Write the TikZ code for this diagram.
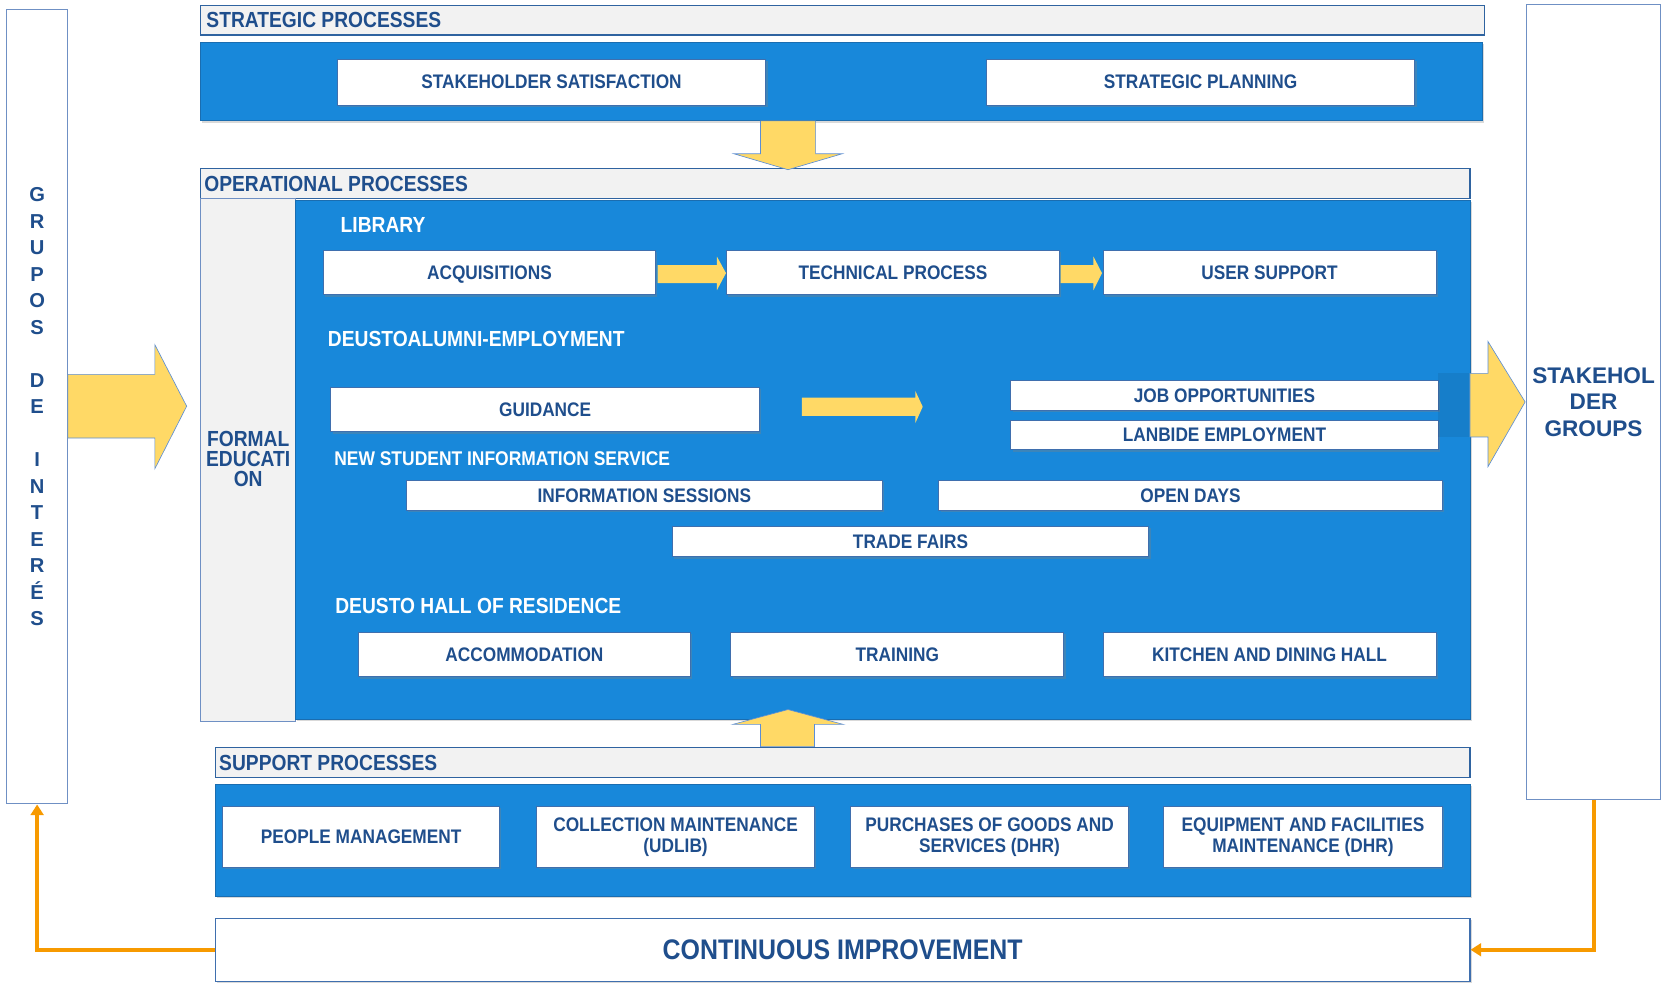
\documentclass[tikz,border=0pt]{standalone}
\usepackage{fontspec}
\setmainfont{Liberation Sans}
\newfontfamily\narb[FakeStretch=0.88]{Liberation Sans Bold}
\newfontfamily\wideb{Liberation Sans Bold}
\usetikzlibrary{shadows,arrows.meta}
\definecolor{bandc}{HTML}{1888DA}
\definecolor{bandb}{HTML}{1A6DB0}
\definecolor{hdrf}{HTML}{F2F2F2}
\definecolor{hdrb}{HTML}{2F63A0}
\definecolor{bordc}{HTML}{3F6FAE}
\definecolor{obord}{HTML}{6F90C4}
\definecolor{txt}{HTML}{1F4E8C}
\definecolor{yel}{HTML}{FFD966}
\definecolor{yelb}{HTML}{5B8ED6}
\definecolor{orc}{HTML}{F79A00}
\tikzset{
  wbox/.style={draw=bordc, line width=0.8pt, fill=white, inner sep=1pt, align=center,
    font=\narb\fontsize{18.5}{20}\selectfont, text=txt,
    drop shadow={shadow xshift=1.8pt, shadow yshift=-1.8pt, opacity=0.35}},
  band/.style={draw=bandb, line width=0.8pt, fill=bandc, inner sep=0pt,
    drop shadow={shadow xshift=1.5pt, shadow yshift=-1.5pt, opacity=0.3}},
  hdr/.style={draw=hdrb, line width=1pt, fill=hdrf, inner sep=0pt},
  lbl/.style={font=\narb\fontsize{20.6}{19}\selectfont, text=txt, anchor=west, inner sep=0pt},
  wlbl/.style={font=\narb\fontsize{20.6}{19}\selectfont, text=white, anchor=west, inner sep=0pt},
  obox/.style={draw=obord, line width=1pt, fill=white, inner sep=0pt, align=center},
  yarrow/.style={fill=yel, draw=yelb, line width=0.6pt},
  orng/.style={draw=orc, line width=3.8pt, -{Triangle[width=12pt,length=10pt]}},
}
\begin{document}
\begin{tikzpicture}[x=1pt,y=-1pt]
\useasboundingbox (0,0) rectangle (1568,929);

% outer stakeholder boxes
\node[obox, minimum width=58pt, minimum height=749pt, text=txt,
  font=\wideb\fontsize{19}{25}\selectfont] (grupos) at (35,383.5)
  {G\\R\\U\\P\\O\\S\\[25pt]D\\E\\[25pt]I\\N\\T\\E\\R\\É\\S};
\node[obox, minimum width=127pt, minimum height=750pt, text=txt,
  font=\wideb\fontsize{21.3}{25}\selectfont] (stake) at (1502.5,379)
  {STAKEHOL\\DER\\GROUPS};

% strategic
\node[hdr, minimum width=1211pt, minimum height=28pt] (hS) at (794.5,19) {};
\node[lbl] (hSt) at ([xshift=6pt]hS.west) {STRATEGIC PROCESSES};
\node[band, minimum width=1209pt, minimum height=74pt] (bS) at (793.5,77) {};
\node[wbox, minimum width=404pt, minimum height=43pt] (ss) at (520,77.5) {STAKEHOLDER SATISFACTION};
\node[wbox, minimum width=404pt, minimum height=43pt] (sp) at (1132,77.5) {STRATEGIC PLANNING};

% operational
\node[hdr, minimum width=1197pt, minimum height=28pt] (hO) at (787.5,173) {};
\node[lbl] (hOt) at ([xshift=4pt]hO.west) {OPERATIONAL PROCESSES};
\node[draw=obord, line width=0.8pt, fill=hdrf, minimum width=90pt, minimum height=493pt,
  inner sep=0pt] (fe) at (234,433.5) {};
\node[font=\narb\fontsize{20.6}{19}\selectfont, text=txt, align=center, inner sep=0pt]
  (fet) at (234,433) {FORMAL\\EDUCATI\\ON};
\node[band, minimum width=1107pt, minimum height=489pt] (bO) at (832.5,433.5) {};

\node[wlbl] (lib) at (321,212) {LIBRARY};
\node[wbox, minimum width=313pt, minimum height=42pt, text depth=0pt] (acq) at (461.5,257) {ACQUISITIONS};
\node[wbox, minimum width=314pt, minimum height=42pt] (tech) at (842,257) {TECHNICAL PROCESS};
\node[wbox, minimum width=314pt, minimum height=42pt] (user) at (1197,257) {USER SUPPORT};

\node[wlbl] (dae) at (309,320) {DEUSTOALUMNI-EMPLOYMENT};
\node[wbox, minimum width=404pt, minimum height=42pt] (guid) at (514,386) {GUIDANCE};
\node[wbox, minimum width=403pt, minimum height=28pt] (job) at (1154.5,373) {JOB OPPORTUNITIES};
\node[wbox, minimum width=403pt, minimum height=28pt] (lanb) at (1154.5,410) {LANBIDE EMPLOYMENT};

\node[wlbl, font=\narb\fontsize{18.7}{19}\selectfont] (nsis) at (315,432) {NEW STUDENT INFORMATION SERVICE};
\node[wbox, minimum width=449pt, minimum height=28pt] (infs) at (607.5,467) {INFORMATION SESSIONS};
\node[wbox, minimum width=475pt, minimum height=28pt] (open) at (1122.5,467) {OPEN DAYS};
\node[wbox, minimum width=449pt, minimum height=29pt] (trade) at (858.5,510.5) {TRADE FAIRS};

\node[wlbl] (dhr) at (316,571) {DEUSTO HALL OF RESIDENCE};
\node[wbox, minimum width=313pt, minimum height=42pt] (acc) at (494.5,617) {ACCOMMODATION};
\node[wbox, minimum width=314pt, minimum height=42pt] (train) at (846,617) {TRAINING};
\node[wbox, minimum width=314pt, minimum height=42pt] (kitch) at (1197,617) {KITCHEN AND DINING HALL};

% support
\node[hdr, minimum width=1183pt, minimum height=28pt] (hSup) at (794.5,719) {};
\node[lbl] (hSupt) at ([xshift=4pt]hSup.west) {SUPPORT PROCESSES};
\node[band, minimum width=1183pt, minimum height=105pt] (bSup) at (794.5,792.5) {};
\node[wbox, minimum width=261pt, minimum height=58pt] (pm) at (340.5,789) {PEOPLE MANAGEMENT};
\node[wbox, minimum width=262pt, minimum height=58pt] (cm) at (637,789) {COLLECTION MAINTENANCE\\(UDLIB)};
\node[wbox, minimum width=262pt, minimum height=58pt] (pg) at (933,789) {PURCHASES OF GOODS AND\\SERVICES (DHR)};
\node[wbox, minimum width=263pt, minimum height=58pt] (ef) at (1228.5,789) {EQUIPMENT AND FACILITIES\\MAINTENANCE (DHR)};

% continuous improvement
\node[draw=bordc, line width=1pt, fill=white, minimum width=1183pt, minimum height=59pt,
  font=\narb\fontsize{26.7}{28}\selectfont, text=txt,
  drop shadow={shadow xshift=1.5pt, shadow yshift=-1.5pt, opacity=0.3}] (ci) at (794.5,895.5)
  {CONTINUOUS IMPROVEMENT};

% yellow arrows
\draw[yarrow] (717,114) -- (769,114) -- (769,145) -- (794,145) -- (743,160) -- (692,145) -- (717,145) -- cycle;
\draw[yarrow] (717,704) -- (768,704) -- (768,683) -- (795,683) -- (743,669) -- (691,683) -- (717,683) -- cycle;
\draw[yarrow] (64,353) -- (146,353) -- (146,325) -- (176,383) -- (146,442) -- (146,413) -- (64,413) -- cycle;
\fill[black, opacity=0.07] (1356,352) rectangle (1386,412);
\draw[yarrow] (1386,352) -- (1403,352) -- (1403,322) -- (1438,379) -- (1403,440) -- (1403,412) -- (1386,412) -- cycle;
\draw[yarrow, draw=none] (620,250) -- (676,250) -- (676,242) -- (684.5,257.5) -- (676,273.5) -- (676,267) -- (620,267) -- cycle;
\draw[yarrow, draw=none] (1000,250) -- (1031,250) -- (1031,242) -- (1039,257.5) -- (1031,273.5) -- (1031,267) -- (1000,267) -- cycle;
\draw[yarrow, draw=none] (756,375) -- (863,375) -- (863,368.5) -- (870,383.5) -- (863,399) -- (863,392) -- (756,392) -- cycle;

% orange feedback connectors
\draw[orng] (ci.west) -| (grupos.south);
\draw[orng] (stake.south) |- (ci.east);
\end{tikzpicture}
\end{document}
